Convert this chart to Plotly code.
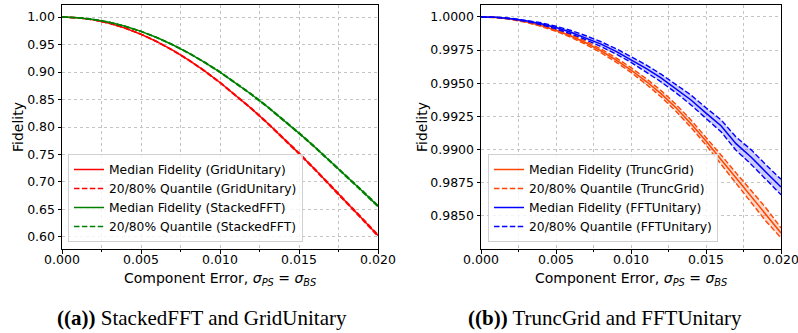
import plotly.graph_objects as go

# ---- data ----
err = [0.000, 0.001, 0.002, 0.003, 0.004, 0.005, 0.006, 0.007, 0.008, 0.009, 0.010,
       0.011, 0.012, 0.013, 0.014, 0.015, 0.016, 0.017, 0.018, 0.019, 0.020]

grid_med = [1.00000, 0.99873, 0.99494, 0.98866, 0.97993, 0.96882, 0.95541, 0.93981, 0.92211,
            0.90246, 0.88100, 0.85787, 0.83323, 0.80726, 0.78011, 0.75196, 0.72300, 0.69339,
            0.66332, 0.63294, 0.60242]
grid_q20 = [1.00000, 0.99870, 0.99485, 0.98850, 0.97970, 0.96850, 0.95500, 0.93930, 0.92150,
            0.90175, 0.88020, 0.85700, 0.83230, 0.80625, 0.77900, 0.75080, 0.72175, 0.69205,
            0.66190, 0.63145, 0.60085]
grid_q80 = [1.00000, 0.99876, 0.99503, 0.98882, 0.98016, 0.96914, 0.95582, 0.94032, 0.92272,
            0.90317, 0.88180, 0.85874, 0.83416, 0.80827, 0.78122, 0.75312, 0.72425, 0.69473,
            0.66474, 0.63443, 0.60399]

stack_med = [1.00000, 0.99895, 0.99579, 0.99056, 0.98328, 0.97399, 0.96277, 0.94966, 0.93477,
             0.91817, 0.89997, 0.88026, 0.85918, 0.83684, 0.81337, 0.78887, 0.76351, 0.73741,
             0.71071, 0.68352, 0.65600]
stack_q20 = [1.00000, 0.99892, 0.99570, 0.99040, 0.98305, 0.97370, 0.96240, 0.94920, 0.93420,
             0.91750, 0.89920, 0.87940, 0.85825, 0.83585, 0.81230, 0.78775, 0.76235, 0.73620,
             0.70945, 0.68220, 0.65460]
stack_q80 = [1.00000, 0.99898, 0.99588, 0.99072, 0.98351, 0.97428, 0.96314, 0.95012, 0.93534,
             0.91884, 0.90074, 0.88112, 0.86011, 0.83783, 0.81444, 0.78999, 0.76467, 0.73862,
             0.71197, 0.68484, 0.65740]

trunc_med = [1.00000, 0.99996, 0.99984, 0.99964, 0.99936, 0.99900, 0.99856, 0.99804, 0.99744,
             0.99676, 0.99600, 0.99515, 0.99422, 0.99315, 0.99195, 0.99065, 0.98925, 0.98785,
             0.98645, 0.98510, 0.98372]
trunc_q20 = [1.00000, 0.99995, 0.99981, 0.99959, 0.99929, 0.99892, 0.99846, 0.99792, 0.99730,
             0.99660, 0.99582, 0.99494, 0.99398, 0.99289, 0.99167, 0.99035, 0.98890, 0.98745,
             0.98600, 0.98460, 0.98335]
trunc_q80 = [1.00000, 0.99997, 0.99987, 0.99969, 0.99943, 0.99908, 0.99866, 0.99816, 0.99758,
             0.99692, 0.99618, 0.99536, 0.99446, 0.99341, 0.99223, 0.99095, 0.98960, 0.98825,
             0.98690, 0.98560, 0.98410]

fft_med = [1.00000, 0.99997, 0.99987, 0.99971, 0.99949, 0.99920, 0.99885, 0.99843, 0.99795,
           0.99741, 0.99680, 0.99613, 0.99540, 0.99460, 0.99374, 0.99275, 0.99180, 0.99045,
           0.98945, 0.98830, 0.98718]
fft_q20 = [1.00000, 0.99996, 0.99984, 0.99966, 0.99941, 0.99910, 0.99872, 0.99828, 0.99777,
           0.99721, 0.99658, 0.99587, 0.99511, 0.99428, 0.99337, 0.99235, 0.99135, 0.98995,
           0.98890, 0.98775, 0.98660]
fft_q80 = [1.00000, 0.99998, 0.99990, 0.99976, 0.99957, 0.99930, 0.99898, 0.99858, 0.99813,
           0.99761, 0.99702, 0.99639, 0.99569, 0.99492, 0.99411, 0.99315, 0.99225, 0.99095,
           0.99000, 0.98885, 0.98776]

left_ticks = [0.60, 0.65, 0.70, 0.75, 0.80, 0.85, 0.90, 0.95, 1.00]
right_ticks = [0.9850, 0.9875, 0.9900, 0.9925, 0.9950, 0.9975, 1.0000]
x_ticks = [0.000, 0.005, 0.010, 0.015, 0.020]

FONT = "DejaVu Sans"
W, H = 798, 333
TOP, BOT = 5, 249           # plot area top / bottom in pixels

fig = go.Figure()

DASH = "5.5px,2.4px"


def add_group(xaxis, yaxis, legend, med, q20, q80, color, fill, name, rank):
    fig.add_trace(go.Scatter(x=err, y=q20, xaxis=xaxis, yaxis=yaxis, mode="lines",
                             line=dict(color=color, width=1.4, dash=DASH),
                             name=f"20/80% Quantile ({name})", legend=legend,
                             legendgroup=name + "q", legendrank=rank + 1, showlegend=True))
    fig.add_trace(go.Scatter(x=err, y=q80, xaxis=xaxis, yaxis=yaxis, mode="lines",
                             line=dict(color=color, width=1.4, dash=DASH),
                             fill="tonexty", fillcolor=fill,
                             name=f"20/80% Quantile ({name})", legend=legend,
                             legendgroup=name + "q", showlegend=False))
    fig.add_trace(go.Scatter(x=err, y=med, xaxis=xaxis, yaxis=yaxis, mode="lines",
                             line=dict(color=color, width=1.5),
                             name=f"Median Fidelity ({name})", legend=legend,
                             legendgroup=name + "m", legendrank=rank, showlegend=True))


add_group("x", "y", "legend", grid_med, grid_q20, grid_q80, "#ff0000",
          "rgba(255,0,0,0.2)", "GridUnitary", 1)
add_group("x", "y", "legend", stack_med, stack_q20, stack_q80, "#008000",
          "rgba(0,128,0,0.2)", "StackedFFT", 3)
add_group("x2", "y2", "legend2", trunc_med, trunc_q20, trunc_q80, "#ff4500",
          "rgba(255,69,0,0.2)", "TruncGrid", 1)
add_group("x2", "y2", "legend2", fft_med, fft_q20, fft_q80, "#0000ff",
          "rgba(0,0,255,0.2)", "FFTUnitary", 3)

dl = [62 / W, 378 / W]
dr = [481 / W, 781 / W]

axis_common = dict(showline=True, linecolor="black", linewidth=1, mirror=True,
                   ticks="outside", ticklen=3.5, tickcolor="black", tickwidth=1,
                   showgrid=True, gridcolor="#c4c4c4", griddash="dot", gridwidth=0.8,
                   zeroline=False, automargin=False, ticklabeloverflow="allow",
                   tickfont=dict(family=FONT, size=12.5, color="black"))

xtitle = "Component Error, <i>σ</i><sub><i>PS</i></sub> = <i>σ</i><sub><i>BS</i></sub>"

x_minor = dict(dtick=0.0025, ticks="outside", ticklen=2, tickcolor="black",
               showgrid=True, gridcolor="#c4c4c4", griddash="dot", gridwidth=0.8)

TF = dict(family=FONT, size=14, color="black")

fig.update_layout(
    width=W, height=H,
    margin=dict(l=0, r=0, t=TOP, b=H - BOT, autoexpand=False),
    paper_bgcolor="white", plot_bgcolor="white",
    font=dict(family=FONT, size=13, color="black"),
    xaxis=dict(domain=dl, range=[0, 0.02], tickvals=x_ticks, tickformat=".3f",
               minor=x_minor, anchor="y", ticklabelstandoff=-5, **axis_common),
    yaxis=dict(domain=[0, 1], range=[0.578, 1.022], tickvals=left_ticks, tickformat=".2f",
               anchor="x", **axis_common),
    xaxis2=dict(domain=dr, range=[0, 0.02], tickvals=x_ticks, tickformat=".3f",
                minor=x_minor, anchor="y2", ticklabelstandoff=-5, **axis_common),
    yaxis2=dict(domain=[0, 1], range=[0.98251, 1.0009], tickvals=right_ticks,
                tickformat=".4f", anchor="x2", **axis_common),
    legend=dict(x=68 / W, y=(H - 242) / H, xref="container", yref="container",
                xanchor="left", yanchor="bottom",
                bgcolor="rgba(255,255,255,0.8)", bordercolor="#d0d0d0", borderwidth=1,
                font=dict(family=FONT, size=12.3), tracegroupgap=0, itemwidth=30),
    legend2=dict(x=488 / W, y=(H - 242) / H, xref="container", yref="container",
                 xanchor="left", yanchor="bottom",
                 bgcolor="rgba(255,255,255,0.8)", bordercolor="#d0d0d0", borderwidth=1,
                 font=dict(family=FONT, size=12.3), tracegroupgap=0, itemwidth=30),
)


def py(p):
    """pixel row -> paper y"""
    return (BOT - p) / (BOT - TOP)


# axis titles
for xc in (220, 631):
    fig.add_annotation(text=xtitle, xref="paper", yref="paper", x=xc / W, y=py(279),
                       xanchor="center", yanchor="middle", showarrow=False, font=TF)
for xc in (18, 422):
    fig.add_annotation(text="Fidelity", xref="paper", yref="paper", x=xc / W, y=py(127),
                       xanchor="center", yanchor="middle", textangle=-90,
                       showarrow=False, font=TF)

CAP = dict(family="Liberation Serif", size=21, color="black")
fig.add_annotation(text="<b>((a))</b> StackedFFT and GridUnitary", xref="paper", yref="paper",
                   x=202 / W, y=py(318), xanchor="center", yanchor="middle",
                   showarrow=False, font=CAP)
fig.add_annotation(text="<b>((b))</b> TruncGrid and FFTUnitary", xref="paper", yref="paper",
                   x=605 / W, y=py(318), xanchor="center", yanchor="middle",
                   showarrow=False, font=CAP)

fig.write_html("out.html")
